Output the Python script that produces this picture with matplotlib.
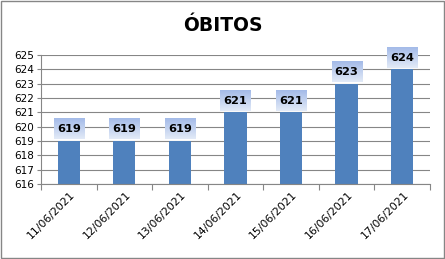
import matplotlib.pyplot as plt
import numpy as np
from matplotlib.patches import Rectangle

dates = ['11/06/2021', '12/06/2021', '13/06/2021', '14/06/2021',
         '15/06/2021', '16/06/2021', '17/06/2021']
obitos = [619, 619, 619, 621, 621, 623, 624]
y_ticks = list(range(616, 626))

fig = plt.figure(figsize=(4.45, 2.59), dpi=100)
ax = fig.add_axes([0.092, 0.29, 0.874, 0.498])

x = np.arange(len(dates))
ax.bar(x, [v - 616 for v in obitos], bottom=616, width=0.4, color='#4f81bd', zorder=2)

ax.set_yticks(y_ticks)
ax.set_yticklabels([str(t) for t in y_ticks], fontsize=7.5, family='DejaVu Sans')
ax.tick_params(axis='y', length=3, width=0.8, color='#868686', pad=2)
ax.grid(axis='y', color='#868686', linewidth=0.8, zorder=0)
ax.set_axisbelow(True)

# category labels between boundary ticks
ax.set_xticks(np.arange(-0.5, len(dates) + 0.5, 1.0))
ax.set_xticklabels([])
ax.tick_params(axis='x', length=4, width=0.8, color='#868686')
for i, d in enumerate(dates):
    ax.text(i + 0.02, 615.6, d, rotation=45, ha='right', va='top',
            rotation_mode='anchor', fontsize=7.8, family='DejaVu Sans')

for s in ['top', 'right']:
    ax.spines[s].set_visible(False)
for s in ['left', 'bottom']:
    ax.spines[s].set_color('#868686')
    ax.spines[s].set_linewidth(0.8)

# gradient label boxes
grad = np.linspace(0, 1, 64).reshape(-1, 1)
top_c = np.array([0.64, 0.73, 0.91])
bot_c = np.array([0.89, 0.92, 0.97])
img = top_c[None, None, :] * (1 - grad[:, :, None]) + bot_c[None, None, :] * grad[:, :, None]
for i, v in enumerate(obitos):
    ax.imshow(img, extent=(i - 0.27, i + 0.27, v + 0.1, v + 1.55),
              aspect='auto', origin='upper', zorder=3, clip_on=False)
    ax.text(i, v + 0.8, str(v), ha='center', va='center', fontsize=8.2,
            fontweight='bold', family='DejaVu Sans', zorder=4)
ax.set_xlim(-0.5, len(dates) - 0.5)
ax.set_ylim(616, 625)

fig.text(0.5, 0.9, 'ÓBITOS', ha='center', va='center', fontsize=13.5,
         fontweight='bold', family='DejaVu Sans')

fig.patches.append(Rectangle((0.002, 0.003), 0.995, 0.993, transform=fig.transFigure,
                             fill=False, edgecolor='#868686', linewidth=1))

fig.savefig('out.png', dpi=100)
